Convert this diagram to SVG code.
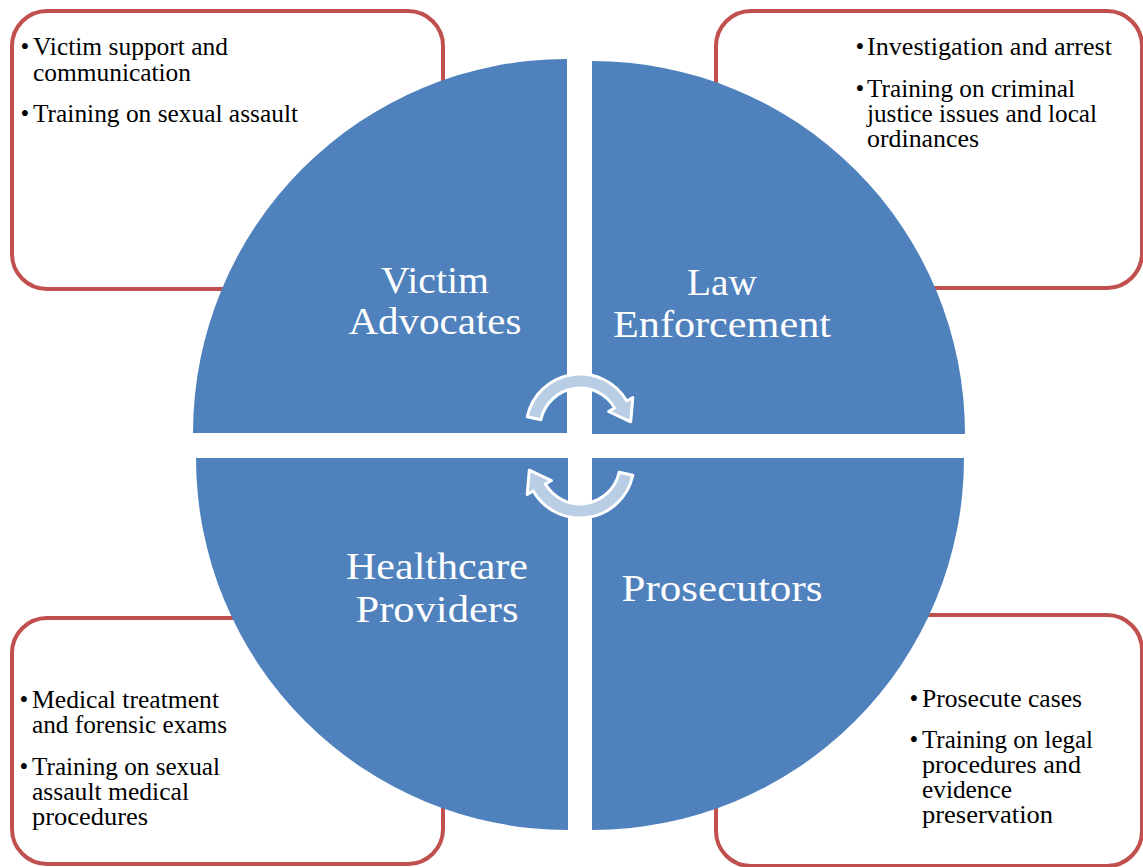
<svg xmlns="http://www.w3.org/2000/svg" width="1143" height="867" viewBox="0 0 1143 867">
<style>
.box{fill:#FFFFFF;stroke:#C0504D;stroke-width:4}
.quad{fill:#4F81BD}
.lbl{font-family:"Liberation Serif","Times New Roman",serif;font-size:38px;fill:#FFFFFF;text-anchor:middle}
.txt{font-family:"Liberation Serif","Times New Roman",serif;font-size:25px;fill:#000000}
.bul{text-anchor:middle}
.arr{fill:#B9CDE5;stroke:#FFFFFF;stroke-width:3;stroke-linejoin:round}
</style>
<rect width="1143" height="867" fill="#FFFFFF"/>
<g id="victim-advocates">
<rect class="box" x="12" y="11" width="431" height="278" rx="35"/>
<path class="quad" d="M567 433 L193 433 A374 374 0 0 1 567 59 Z"/>
<text class="lbl" x="435" y="293" textLength="108" lengthAdjust="spacingAndGlyphs">Victim</text>
<text class="lbl" x="435" y="334" textLength="173" lengthAdjust="spacingAndGlyphs">Advocates</text>
<text class="txt bul" x="25" y="55">•</text>
<text class="txt" x="33" y="55" textLength="195" lengthAdjust="spacingAndGlyphs">Victim support and</text>
<text class="txt" x="33" y="81" textLength="158" lengthAdjust="spacingAndGlyphs">communication</text>
<text class="txt bul" x="25" y="122">•</text>
<text class="txt" x="33" y="122" textLength="265" lengthAdjust="spacingAndGlyphs">Training on sexual assault</text>
</g>
<g id="law-enforcement">
<rect class="box" x="716" y="11" width="426" height="277" rx="35"/>
<path class="quad" d="M592 434 L592 61 A373 373 0 0 1 965 434 Z"/>
<text class="lbl" x="722" y="295" textLength="70" lengthAdjust="spacingAndGlyphs">Law</text>
<text class="lbl" x="722" y="337" textLength="218" lengthAdjust="spacingAndGlyphs">Enforcement</text>
<text class="txt bul" x="860" y="55">•</text>
<text class="txt" x="867" y="55" textLength="245" lengthAdjust="spacingAndGlyphs">Investigation and arrest</text>
<text class="txt bul" x="860" y="97">•</text>
<text class="txt" x="867" y="97" textLength="208" lengthAdjust="spacingAndGlyphs">Training on criminal</text>
<text class="txt" x="867" y="122" textLength="230" lengthAdjust="spacingAndGlyphs">justice issues and local</text>
<text class="txt" x="867" y="147" textLength="112" lengthAdjust="spacingAndGlyphs">ordinances</text>
</g>
<g id="healthcare-providers">
<rect class="box" x="12" y="618" width="431" height="246" rx="35"/>
<path class="quad" d="M568 458 L568 830 A372 372 0 0 1 196 458 Z"/>
<text class="lbl" x="437" y="579" textLength="182" lengthAdjust="spacingAndGlyphs">Healthcare</text>
<text class="lbl" x="437" y="622" textLength="163" lengthAdjust="spacingAndGlyphs">Providers</text>
<text class="txt bul" x="24" y="708">•</text>
<text class="txt" x="32" y="708" textLength="187" lengthAdjust="spacingAndGlyphs">Medical treatment</text>
<text class="txt" x="32" y="733" textLength="195" lengthAdjust="spacingAndGlyphs">and forensic exams</text>
<text class="txt bul" x="24" y="775">•</text>
<text class="txt" x="32" y="775" textLength="188" lengthAdjust="spacingAndGlyphs">Training on sexual</text>
<text class="txt" x="32" y="800" textLength="157" lengthAdjust="spacingAndGlyphs">assault medical</text>
<text class="txt" x="32" y="825" textLength="116" lengthAdjust="spacingAndGlyphs">procedures</text>
</g>
<g id="prosecutors">
<rect class="box" x="716" y="615" width="426" height="251" rx="35"/>
<path class="quad" d="M592 458 L964 458 A372 372 0 0 1 592 830 Z"/>
<text class="lbl" x="722" y="601" textLength="201" lengthAdjust="spacingAndGlyphs">Prosecutors</text>
<text class="txt bul" x="914" y="707">•</text>
<text class="txt" x="922" y="707" textLength="160" lengthAdjust="spacingAndGlyphs">Prosecute cases</text>
<text class="txt bul" x="914" y="748">•</text>
<text class="txt" x="922" y="748" textLength="171" lengthAdjust="spacingAndGlyphs">Training on legal</text>
<text class="txt" x="922" y="773" textLength="159" lengthAdjust="spacingAndGlyphs">procedures and</text>
<text class="txt" x="922" y="798" textLength="90" lengthAdjust="spacingAndGlyphs">evidence</text>
<text class="txt" x="922" y="823" textLength="131" lengthAdjust="spacingAndGlyphs">preservation</text>
</g>
<g id="connectors">
<path id="cycle-top" class="arr" d="M527.2 416.8 A54 54 0 0 1 626.8 401 L632.8 397.5 L630.7 421.8 L608.6 411.5 L614.6 408 A40 40 0 0 0 540.9 419.7 Z"/>
<path id="cycle-bottom" class="arr" transform="rotate(180 580 446)" d="M527.2 416.8 A54 54 0 0 1 626.8 401 L632.8 397.5 L630.7 421.8 L608.6 411.5 L614.6 408 A40 40 0 0 0 540.9 419.7 Z"/>
</g>
</svg>
